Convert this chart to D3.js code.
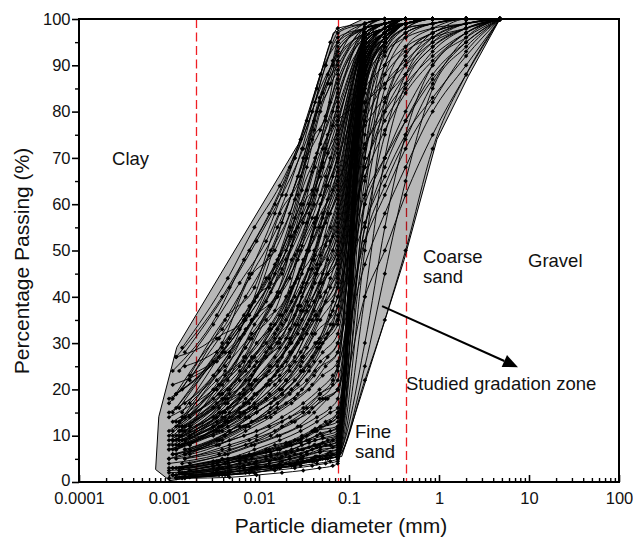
<!DOCTYPE html>
<html>
<head>
<meta charset="utf-8">
<script src="https://cdn.jsdelivr.net/npm/d3@7"></script>
<style>
  body { margin: 0; background: #fff; }
  svg { display: block; font-family: "Liberation Sans", Arial, sans-serif; }
</style>
</head>
<body>
<svg id="chart"></svg>
<script>
// sieve openings (mm), coarse -> fine
var sieveSizes = [4.75, 2.0, 0.85, 0.425, 0.25, 0.15, 0.075];

// hydrometer diameter sets (mm), first reading -> last reading
var hydroSizes = [
  [0.062, 0.044, 0.029, 0.017, 0.0089, 0.0045, 0.0014],
  [0.055, 0.039, 0.025, 0.015, 0.0078, 0.0039, 0.0012],
  [0.048, 0.034, 0.022, 0.013, 0.0068, 0.0034, 0.0011],
  [0.066, 0.047, 0.031, 0.018, 0.0094, 0.0047, 0.0015],
  [0.042, 0.030, 0.020, 0.012, 0.0061, 0.0031, 0.0013],
  [0.058, 0.041, 0.027, 0.016, 0.0083, 0.0042, 0.0017],
  [0.051, 0.036, 0.023, 0.0135, 0.0071, 0.0036, 0.0010]
];

// row = [hydro set, % passing at each sieve (7), % passing at each hydrometer reading (7)]
var fineRows = [
  [0,100,100,100,100,100,99,98, 95,85,74,64,55,44,29],
  [1,100,100,100,100,99,98,96, 90,80,70,60,50,40,27],
  [2,100,100,100,100,100,99,95, 88,78,68,58,48,36,24],
  [3,100,100,100,99,99,98,94, 90,82,72,62,52,42,28],
  [4,100,100,100,100,99,97,92, 82,72,62,52,43,34,24],
  [5,100,100,100,100,100,98,93, 88,78,66,55,45,35,22],
  [6,100,100,100,100,99,98,90, 84,73,62,50,40,31,17],
  [0,100,100,100,100,99,97,88, 82,71,60,49,39,30,15],
  [1,100,100,100,99,98,96,86, 78,67,57,47,38,29,16],
  [2,100,100,100,100,99,97,84, 73,63,53,44,36,28,15],
  [3,100,100,100,100,98,95,82, 77,67,56,46,36,27,14],
  [4,100,100,100,99,98,96,80, 68,58,48,39,31,23,13],
  [5,100,100,100,100,99,96,78, 71,60,50,40,31,23,12],
  [6,100,100,100,100,98,95,76, 69,58,48,38,29,21,11],
  [0,100,100,100,99,98,94,74, 68,57,46,36,27,20,12],
  [1,100,100,100,100,98,95,72, 64,53,43,34,26,19,10],
  [2,100,100,100,100,99,96,70, 60,50,41,33,26,20,13],
  [3,100,100,100,99,97,93,68, 63,53,43,34,26,19,11],
  [4,100,100,100,100,98,94,66, 55,45,37,30,24,18,13],
  [5,100,100,100,99,97,92,64, 58,48,38,30,23,17,10],
  [6,100,100,100,100,98,94,62, 55,46,37,29,22,16,9],
  [0,100,100,100,99,97,93,60, 55,46,37,29,22,16,10],
  [1,100,100,100,100,98,93,58, 51,42,34,27,21,15,8],
  [2,100,100,100,99,97,92,56, 47,39,31,25,19,14,9],
  [3,100,100,100,99,96,90,54, 50,41,33,25,19,14,9],
  [4,100,100,100,100,97,91,52, 43,35,29,23,18,14,10],
  [5,100,100,100,99,96,90,50, 45,37,30,24,18,13,8],
  [6,100,100,100,100,97,91,48, 43,35,28,22,17,12,7],
  [0,100,100,100,99,96,89,46, 42,35,28,22,17,13,8],
  [1,100,100,100,100,97,90,44, 39,32,26,21,16,12,7],
  [2,100,100,100,99,95,88,42, 35,29,24,19,15,11,7],
  [3,100,100,100,99,95,87,40, 37,30,24,19,15,11,6],
  [4,100,100,100,100,96,88,38, 32,27,22,18,14,11,8],
  [5,100,100,100,99,95,86,36, 32,26,21,17,13,10,6],
  [6,100,100,100,99,94,85,34, 30,25,20,16,12,9,5],
  [1,100,100,100,100,100,99,97, 90,80,70,58,45,33,27],
  [3,100,100,100,100,99,98,95, 91,83,70,56,40,31,25],
  [5,100,100,100,100,99,97,91, 86,76,62,48,35,28,23],
  [2,100,100,100,100,99,98,89, 80,68,55,42,32,26,21]
];

var clayRows = [
  [0,100,100,100,100,99,98,93, 86,80,66,58,42,36,20],
  [1,100,100,100,100,100,99,91, 79,74,61,50,44,30,19],
  [2,100,100,100,100,99,97,87, 76,70,58,49,35,31,18],
  [3,100,100,100,99,98,96,85, 80,66,60,45,40,28,17],
  [4,100,100,100,100,99,98,83, 70,63,50,44,33,26,16],
  [5,100,100,100,100,99,96,81, 75,62,55,41,35,24,14],
  [6,100,100,100,100,98,95,79, 72,60,53,41,33,24,15],
  [0,100,100,100,99,98,95,77, 70,63,50,41,34,22,14],
  [1,100,100,100,100,99,96,75, 66,57,49,37,31,21,12],
  [2,100,100,100,100,98,95,73, 62,56,44,38,27,22,11],
  [3,100,100,100,99,97,94,71, 66,55,48,36,30,20,12],
  [4,100,100,100,100,98,95,69, 57,51,40,35,25,20,12],
  [5,100,100,100,100,97,93,67, 61,50,44,33,27,18,11],
  [6,100,100,100,100,98,94,65, 57,50,39,33,24,19,10],
  [0,100,100,100,99,97,92,63, 58,47,41,30,25,17,11],
  [1,100,100,100,100,98,95,61, 53,46,36,31,22,18,9],
  [2,100,100,100,99,97,93,59, 49,43,33,29,20,17,10],
  [3,100,100,100,99,96,91,57, 53,43,37,27,22,15,9],
  [4,100,100,100,100,97,92,55, 45,40,31,27,19,16,11],
  [5,100,100,100,99,96,90,53, 48,39,34,25,21,14,8],
  [6,100,100,100,100,97,92,51, 45,38,30,25,18,15,8],
  [0,100,100,100,99,96,90,49, 44,36,31,23,19,13,9],
  [1,100,100,100,100,97,91,47, 41,35,27,23,17,14,7],
  [2,100,100,100,99,95,89,45, 37,32,25,21,15,13,8],
  [3,100,100,100,99,95,88,43, 39,31,27,20,16,11,7]
];

var siltRows = [
  [0,100,100,100,99,97,88,18, 16,14,12,10,8,6,4],
  [1,100,100,100,99,96,85,20, 18,16,13,11,9,7,5],
  [2,100,100,100,98,94,80,22, 19,16,14,12,10,8,6],
  [3,100,100,100,99,96,90,25, 23,20,17,14,11,9,6],
  [4,100,100,100,100,97,92,28, 24,20,17,14,12,10,8],
  [5,100,100,99,97,92,78,30, 27,23,19,16,13,10,7],
  [6,100,100,100,99,95,86,32, 28,24,20,17,14,11,7],
  [0,100,100,100,98,93,82,16, 15,13,11,9,7,5,3],
  [1,100,100,99,97,90,72,15, 13,11,9,8,6,5,3],
  [2,100,99,97,92,82,60,14, 12,10,8.5,7,5.5,4.5,3],
  [3,100,100,98,94,85,65,24, 21,18,15,12,9,7,5],
  [4,100,100,100,99,98,95,35, 30,26,22,18,15,12,9],
  [5,100,99,96,88,75,55,20, 18,15,12,10,8,6,4],
  [6,100,100,100,99,97,91,26, 23,20,17,14,11,8,5],
  [0,100,100,100,100,98,93,38, 34,29,24,20,16,13,9],
  [1,100,100,99,96,88,70,28, 25,21,18,15,12,9,6]
];

var sandRows = [
  [0,100,100,100,99,97,90,5, 4.5,4,3.5,3,2,1.5,0.8],
  [1,100,100,100,100,98,94,6, 5.5,5,4,3.5,2.5,2,1],
  [2,100,100,100,100,99,96,7, 6.5,6,5,4,3.5,2.5,1.5],
  [3,100,100,100,99,96,86,8, 7.5,6.5,5.5,4.5,3.5,2.5,1.5],
  [4,100,100,100,100,98,92,9, 8,7,6,5,4,3,2],
  [5,100,100,100,99,95,80,10, 9,8,7,6,5,4,2.5],
  [6,100,100,100,100,97,88,11, 10,9,8,6.5,5.5,4.5,3],
  [0,100,100,100,99,95,75,12, 11,10,8.5,7,6,4.5,3],
  [1,100,100,100,99,96,84,8.5, 8,7,6,5,4,3,1.5],
  [2,100,100,99,98,93,70,7.5, 7,6,5,4.5,3.5,2.5,1.5],
  [3,100,100,100,99,97,90,6.5, 6,5.5,4.5,3.5,3,2,1],
  [4,100,100,99,97,90,62,6, 5.5,5,4,3.5,3,2,1],
  [5,100,99,97,92,80,50,5.5, 5,4.5,4,3,2.5,1.5,1],
  [6,100,98,94,86,70,40,5.5, 5,4.5,3.5,3,2,1.5,0.8],
  [0,100,96,90,75,55,30,6, 5.5,4.5,4,3,2,1.5,1],
  [1,100,94,85,65,45,25,5.5, 5,4.5,3.5,3,2.5,2,1],
  [2,100,88,72,50,35,22,5.5, 5,4.5,4,3.5,3,2,1.5],
  [3,100,100,100,100,99,97,10, 9,8,7,5.5,4.5,3.5,2],
  [4,100,100,100,100,99,95,12, 11,9.5,8,6.5,5,4,2.5],
  [5,100,100,100,99,98,93,14, 12.5,11,9,7,5.5,4,2.5],
  [6,100,100,100,100,98,96,9.5, 8.5,7.5,6.5,5.5,4.5,3,2],
  [0,100,100,100,100,99,98,7, 6.5,5.5,5,4,3,2,1],
  [1,100,100,99,98,94,78,4.5, 4,3.5,3,2.5,2,1.5,0.8],
  [2,100,100,100,99,97,89,8, 7.5,6.5,5.5,4.5,3.5,2.5,1.5],
  [3,100,100,100,100,100,99,4, 3.5,3,2.5,2,1.5,1,0.8],
  [5,100,100,100,100,100,98,6.5, 6,5,4.5,3.5,3,2,1.5],
  [0,100,100,100,100,99,97,9, 8,7.5,6,5,4,3,2],
  [6,100,100,100,100,100,99,10.5, 9.5,8.5,7,6,5,3.5,2.5],
  [2,100,100,100,100,99,96,11.5, 10.5,9,8,7,5.5,4,3],
  [4,100,100,100,100,100,98,13, 11.5,10,8.5,7,5.5,4.5,3]
];

var coarseRows = [
  [0,100,98,93,85,78,68,40, 36,30,25,20,16,12,8],
  [1,100,97,90,80,70,60,35, 31,27,22,18,14,11,7],
  [2,100,93,82,72,62,52,30, 26,22,19,15,12,9,6],
  [3,100,90,80,68,58,47,25, 22,19,16,13,10,8,5],
  [4,100,98,96,93,88,80,55, 49,42,35,28,22,16,11],
  [5,100,99,97,90,82,72,50, 45,39,32,26,20,15,10],
  [6,100,95,88,78,68,55,20, 18,15,13,10,8,6,4],
  [0,100,88,75,62,50,40,15, 13,11,9,7,6,4,3],
  [1,100,97,92,86,80,73,62, 56,48,40,32,25,19,13],
  [2,100,99,95,88,80,68,45, 40,34,28,22,17,13,9],
  [3,100,92,83,75,66,56,38, 34,29,24,19,15,11,7],
  [4,100,96,86,74,64,52,10, 9,8,6.5,5.5,4.5,3.5,2],
  [5,100,100,97,94,90,85,70, 64,56,48,40,32,25,17],
  [6,100,98,94,88,83,77,65, 58,50,42,34,27,21,14],
  [0,100,99,96,91,86,78,58, 52,45,38,31,24,18,12],
  [2,100,97,91,84,76,66,48, 43,37,30,24,19,14,9],
  [4,100,95,87,78,70,62,42, 36,31,26,21,16,12,8],
  [6,100,99,98,96,93,88,75, 68,60,51,43,35,27,18],
  [1,100,98,95,90,86,82,78, 72,63,54,45,36,28,19]
];

// studied gradation zone outline
var zoneD = [0.00102, 0.00071, 0.00077, 0.00122, 0.0274, 0.067, 0.144, 4.75, 2.1, 0.95, 0.41, 0.083];
var zoneP = [0.3, 2.7, 14.1, 29.1, 73, 97, 100, 100, 87.5, 74, 48, 5.5];

// soil class boundaries (mm)
var dividers = [0.002, 0.075, 0.425];

var xTickValues = [0.0001, 0.001, 0.01, 0.1, 1, 10, 100];
var xTickLabels = ["0.0001", "0.001", "0.01", "0.1", "1", "10", "100"];

var width = 633, height = 540,
    margin = {top: 19, right: 14, bottom: 58, left: 79};

var svg = d3.select("#chart")
    .attr("width", width)
    .attr("height", height);

var x = d3.scaleLog().domain([0.0001, 100]).range([margin.left, width - margin.right]);
var y = d3.scaleLinear().domain([0, 100]).range([height - margin.bottom, margin.top]);

function rowPoints(row) {
  var hs = hydroSizes[row[0]];
  var pts = [];
  sieveSizes.forEach(function(d, i) { pts.push([d, row[1 + i]]); });
  hs.forEach(function(d, i) { pts.push([d, row[8 + i]]); });
  pts.sort(function(a, b) { return a[0] - b[0]; });
  return pts;
}

var curves = [].concat(fineRows, clayRows, siltRows, sandRows, coarseRows).map(rowPoints);

// dividers go under the grey zone
svg.append("g").selectAll("line")
  .data(dividers)
  .enter().append("line")
    .attr("x1", function(d) { return Math.round(x(d)) + 0.5; })
    .attr("x2", function(d) { return Math.round(x(d)) + 0.5; })
    .attr("y1", y(100))
    .attr("y2", y(0))
    .attr("stroke", "#f01e24")
    .attr("stroke-width", 1.3)
    .attr("stroke-dasharray", "9,4.5");

var zone = zoneD.map(function(d, i) { return [x(d), y(zoneP[i])]; });
svg.append("path")
    .attr("d", "M" + zone.join("L") + "Z")
    .attr("fill", "#000")
    .attr("fill-opacity", 0.28)
    .attr("stroke", "#000")
    .attr("stroke-width", 1);

var line = d3.line()
    .x(function(d) { return x(d[0]); })
    .y(function(d) { return y(d[1]); })
    .curve(d3.curveMonotoneX);

var g = svg.append("g");
g.selectAll("path.curve")
  .data(curves)
  .enter().append("path")
    .attr("class", "curve")
    .attr("d", line)
    .attr("fill", "none")
    .attr("stroke", "#000")
    .attr("stroke-width", 0.95);

var marker = d3.symbol().type(d3.symbolSquare).size(10);
g.selectAll("g.pts")
  .data(curves)
  .enter().append("g")
    .attr("class", "pts")
  .selectAll("path")
  .data(function(d) { return d; })
  .enter().append("path")
    .attr("d", marker)
    .attr("transform", function(d) { return "translate(" + x(d[0]) + "," + y(d[1]) + ") rotate(45)"; })
    .attr("fill", "#000");

// axes
var xMinor = [];
xTickValues.slice(0, -1).forEach(function(d) {
  for (var k = 2; k < 10; k++) xMinor.push(d * k);
});

svg.append("g")
    .attr("transform", "translate(0," + y(0) + ")")
    .call(d3.axisBottom(x).tickValues(xMinor).tickSize(-4).tickFormat(""))
    .call(function(a) { a.select(".domain").remove(); a.selectAll("line").attr("stroke-width", 1.4); });

var xAxis = svg.append("g")
    .attr("transform", "translate(0," + y(0) + ")")
    .call(d3.axisBottom(x).tickValues(xTickValues).tickSize(-7).tickPadding(10)
      .tickFormat(function(d, i) { return xTickLabels[i]; }));
xAxis.select(".domain").remove();
xAxis.selectAll("line").attr("stroke-width", 1.6);
xAxis.selectAll("text").attr("font-size", "16.5px").attr("font-family", "Liberation Sans, Arial, sans-serif").attr("fill", "#111");

svg.append("g")
    .attr("transform", "translate(" + x(0.0001) + ",0)")
    .call(d3.axisLeft(y).tickValues(d3.range(5, 100, 10)).tickSize(4).tickFormat(""))
    .call(function(a) { a.select(".domain").remove(); a.selectAll("line").attr("stroke-width", 1.4); });

var yAxis = svg.append("g")
    .attr("transform", "translate(" + x(0.0001) + ",0)")
    .call(d3.axisLeft(y).tickValues(d3.range(0, 101, 10)).tickSize(7).tickPadding(1.5));
yAxis.select(".domain").remove();
yAxis.selectAll("line").attr("stroke-width", 1.6);
yAxis.selectAll("text").attr("font-size", "16.5px").attr("font-family", "Liberation Sans, Arial, sans-serif").attr("fill", "#111");
// the "0" label sits a touch higher so it clears the x labels
yAxis.selectAll(".tick").filter(function(d) { return d === 0; }).select("text").attr("dy", "0.2em");

// frame
svg.append("rect")
    .attr("x", x(0.0001))
    .attr("y", y(100))
    .attr("width", x(100) - x(0.0001))
    .attr("height", y(0) - y(100))
    .attr("fill", "none")
    .attr("stroke", "#000")
    .attr("stroke-width", 2);

// titles
svg.append("text")
    .attr("x", (x(0.0001) + x(100)) / 2 - 8)
    .attr("y", 533)
    .attr("text-anchor", "middle")
    .attr("font-size", "21px")
    .attr("fill", "#111")
    .text("Particle diameter (mm)");

svg.append("text")
    .attr("transform", "translate(29," + 261 + ") rotate(-90)")
    .attr("text-anchor", "middle")
    .attr("font-size", "21px")
    .attr("fill", "#111")
    .text("Percentage Passing (%)");

// zone labels (two-line labels get their own lines)
var labelText = ["Clay", "Coarse", "sand", "Gravel", "Fine", "sand", "Studied gradation zone"];
var labelD = [0.000233, 0.664, 0.664, 9.75, 0.1167, 0.1167, 0.43];
var labelP = [68.5, 47.3, 43.0, 46.4, 9.5, 5.2, 19.9];

svg.append("g").selectAll("text")
  .data(labelText)
  .enter().append("text")
    .attr("x", function(d, i) { return x(labelD[i]); })
    .attr("y", function(d, i) { return y(labelP[i]); })
    .attr("font-size", "18.5px")
    .attr("fill", "#111")
    .text(function(d) { return d; });

// arrow pointing at the zone
var arrowFrom = [0.233, 38.0], arrowTo = [7.55, 24.8];
var ax0 = x(arrowFrom[0]), ay0 = y(arrowFrom[1]),
    ax1 = x(arrowTo[0]), ay1 = y(arrowTo[1]);
var len = Math.sqrt((ax1 - ax0) * (ax1 - ax0) + (ay1 - ay0) * (ay1 - ay0)),
    ux = (ax1 - ax0) / len, uy = (ay1 - ay0) / len,
    headL = 15, headW = 6.5;
var bx = ax1 - ux * headL, by = ay1 - uy * headL;
svg.append("line")
    .attr("x1", ax0).attr("y1", ay0)
    .attr("x2", bx).attr("y2", by)
    .attr("stroke", "#000")
    .attr("stroke-width", 2);
svg.append("path")
    .attr("d", "M" + ax1 + "," + ay1 +
      "L" + (bx - uy * headW) + "," + (by + ux * headW) +
      "L" + (bx + uy * headW) + "," + (by - ux * headW) + "Z")
    .attr("fill", "#000");
</script>
</body>
</html>
